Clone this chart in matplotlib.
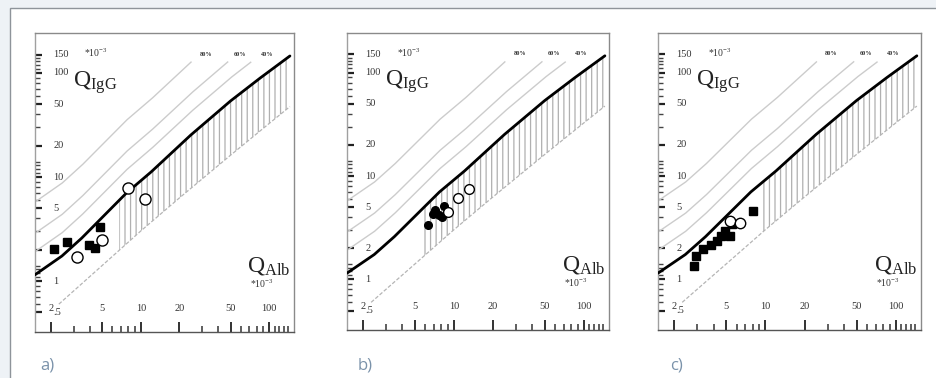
import matplotlib
matplotlib.use("Agg")
import matplotlib.pyplot as plt
import matplotlib.transforms as mtransforms
from matplotlib.patches import Rectangle
import numpy as np

plt.rcParams["mathtext.fontset"] = "custom"
plt.rcParams["mathtext.rm"] = "Liberation Serif"
plt.rcParams["mathtext.it"] = "Liberation Serif:italic"
plt.rcParams["hatch.linewidth"] = 0.9

# ---------------- data (values in units of 10^-3) ----------------
panel_labels = ["a)", "b)", "c)"]

# Upper discrimination line (thick black)
line_qalb = [1.5, 2.43, 3.47, 4.95, 7.73, 12.05, 24.5, 50, 85.2, 145]
line_qigg = [1.15, 1.74, 2.59, 4.03, 7.02, 11.2, 25.3, 53.8, 89.5, 145.6]

# Lower boundary of the reference range (grey)
low_qalb = [2.3, 5, 10, 20, 50, 100, 145]
low_qigg = [0.6, 1.41, 3.03, 6.3, 16.2, 32.7, 47.5]

# Intrathecal fraction lines (labelled at top)
if_levels = [0.4, 0.6, 0.8]
if_names = ["40%", "60%", "80%"]
if_label_x = [96, 59, 32]
if_top_cut = 128

# Start of the hatched region in each panel
hatch_start = [6.8, 5.8, 9.5]

# Patients: filled markers / open markers
a_fill_x = [2.10, 2.66, 3.95, 4.40, 4.80]
a_fill_y = [2.02, 2.39, 2.22, 2.06, 3.33]
a_open_x = [3.18, 4.95, 7.96, 10.7]
a_open_y = [1.71, 2.48, 7.78, 6.11]

b_fill_x = [6.36, 6.89, 7.66, 8.44, 8.14, 7.2]
b_fill_y = [3.33, 4.31, 4.22, 5.15, 4.01, 4.71]
b_open_x = [8.97, 10.7, 13.0]
b_open_y = [4.48, 6.1, 7.5]

c_fill_x = [2.83, 2.92, 3.33, 3.81, 4.28, 4.59, 4.93, 5.34, 5.53, 7.97]
c_fill_y = [1.34, 1.69, 1.95, 2.15, 2.36, 2.65, 2.94, 2.62, 3.45, 4.61]
c_open_x = [5.35, 6.38]
c_open_y = [3.7, 3.49]

fill_x = [a_fill_x, b_fill_x, c_fill_x]
fill_y = [a_fill_y, b_fill_y, c_fill_y]
open_x = [a_open_x, b_open_x, c_open_x]
open_y = [a_open_y, b_open_y, c_open_y]
fill_marker = ["s", "o", "s"]
open_size = [8, 7, 7.5]

x_major = [2, 5, 10, 20, 50, 100]
x_major_labels = ["2", "5", "10", "20", "50", "100"]
x_minor = [3, 4, 6, 7, 8, 9, 30, 40, 60, 70, 80, 90, 110, 120, 130, 140]
y_major = [0.5, 1, 2, 5, 10, 20, 50, 100, 150]
y_major_labels = [".5", "1", "2", "5", "10", "20", "50", "100", "150"]
y_minor = [0.6, 0.7, 0.8, 0.9, 1.1, 1.2, 1.3, 1.4, 3, 4, 6, 7, 8, 9, 11, 12, 13, 14,
           30, 40, 60, 70, 80, 90, 110, 120, 130, 140]

# ---------------- figure ----------------
W, H = 936, 378
fig = plt.figure(figsize=(W / 100, H / 100), dpi=100)
fig.patch.set_facecolor("#eef2f6")
fig.patches.append(Rectangle((10 / W, -0.01), 1.0, (H - 8) / H + 0.01,
                             transform=fig.transFigure, facecolor="white",
                             edgecolor="#8e949a", linewidth=1.0, zorder=-10))

boxes = [(35, 294, 33, 332), (347, 609, 33, 330), (658, 921, 33, 330)]
label_x = [40, 358, 670]

serif = "Liberation Serif"
gl = np.logspace(np.log10(1.5), np.log10(145), 300)

for i, (l, r, t, b) in enumerate(boxes):
    ax = fig.add_axes([l / W, (H - b) / H, (r - l) / W, (b - t) / H])
    ax.set_xscale("log")
    ax.set_yscale("log")
    ax.set_xlim(1.5, 156)
    ax.set_ylim(0.324, 242)
    ax.set_facecolor("white")
    for s in ax.spines.values():
        s.set_color("#8a8a8a")
        s.set_linewidth(1.0)
    ax.spines["bottom"].set_color("#555555")
    ax.spines["left"].set_color("#a0a0a0")

    # ticks
    ax.set_xticks(x_major)
    ax.set_xticks(x_minor, minor=True)
    ax.set_yticks(y_major)
    ax.set_yticks(y_minor, minor=True)
    ax.set_xticklabels([])
    ax.set_yticklabels([])
    ax.set_xticklabels([], minor=True)
    ax.set_yticklabels([], minor=True)
    ax.tick_params(axis="x", which="major", direction="in", length=7.5, width=1.3,
                   color="#222222")
    ax.tick_params(axis="x", which="minor", direction="in", length=4, width=1.1,
                   color="#333333")
    ax.tick_params(axis="y", which="major", direction="in", length=5, width=1.6,
                   color="#222222")
    ax.tick_params(axis="y", which="minor", direction="in", length=3.5, width=1.0,
                   color="#444444")

    # tick labels inside the box
    bt = mtransforms.blended_transform_factory(ax.transData, ax.transAxes)
    for v, s in zip(x_major, x_major_labels):
        ax.text(v, 0.08, s, transform=bt, ha="center", va="center",
                fontsize=7.5, family=serif, color="#333333")
    lt = mtransforms.blended_transform_factory(ax.transAxes, ax.transData)
    for v, s in zip(y_major, y_major_labels):
        ax.text(0.07, v, s, transform=lt, ha="left", va="center",
                fontsize=7.5, family=serif, color="#333333")

    # reference lines
    lq = np.interp(np.log10(gl), np.log10(line_qalb), np.log10(line_qigg))
    for p, nm, lx in zip(if_levels, if_names, if_label_x):
        yy = 10 ** lq / (1 - p)
        m = yy <= if_top_cut
        ax.plot(gl[m], yy[m], color="#cccccc", lw=1.0, zorder=2)
        ax.text(lx, 152, nm, ha="center", va="center", fontsize=4.5,
                color="#333333", fontweight="bold", family=serif)

    # hatched region
    hx = np.logspace(np.log10(hatch_start[i]), np.log10(145), 200)
    hu = 10 ** np.interp(np.log10(hx), np.log10(line_qalb), np.log10(line_qigg))
    hl = 10 ** np.interp(np.log10(hx), np.log10(low_qalb), np.log10(low_qigg))
    ax.fill_between(hx, hl, hu, facecolor="none", edgecolor="#b0b0b0",
                    hatch="|||", linewidth=0, zorder=1)
    ax.plot(low_qalb, low_qigg, color="#b5b5b5", lw=0.9, ls=(0, (3, 1.5)), zorder=2)
    ax.plot(line_qalb, line_qigg, color="black", lw=2.0, zorder=3,
            solid_capstyle="round")

    # patients
    ax.plot(fill_x[i], fill_y[i], ls="none", marker=fill_marker[i], ms=5.5,
            color="black", zorder=5)
    ax.plot(open_x[i], open_y[i], ls="none", marker="o", ms=open_size[i],
            mfc="white", mec="black", mew=1.0, zorder=6)

    # axis titles
    ax.text(0.145, 0.835, r"Q$_{\mathrm{IgG}}$", transform=ax.transAxes,
            fontsize=17, family=serif, ha="left", va="center", color="#222222")
    ax.text(0.19, 0.935, r"*10$^{-3}$", transform=ax.transAxes, fontsize=7,
            family=serif, ha="left", va="center", color="#333333")
    ax.text(0.82, 0.22, r"Q$_{\mathrm{Alb}}$", transform=ax.transAxes,
            fontsize=17, family=serif, ha="left", va="center", color="#222222")
    ax.text(0.83, 0.16, r"*10$^{-3}$", transform=ax.transAxes, fontsize=7,
            family=serif, ha="left", va="center", color="#333333")

    fig.text(label_x[i] / W, (H - 366) / H, panel_labels[i], fontsize=12,
             family="Open Sans", color="#7a92aa", ha="left", va="center")

fig.savefig("out.png", dpi=100, facecolor=fig.get_facecolor())
